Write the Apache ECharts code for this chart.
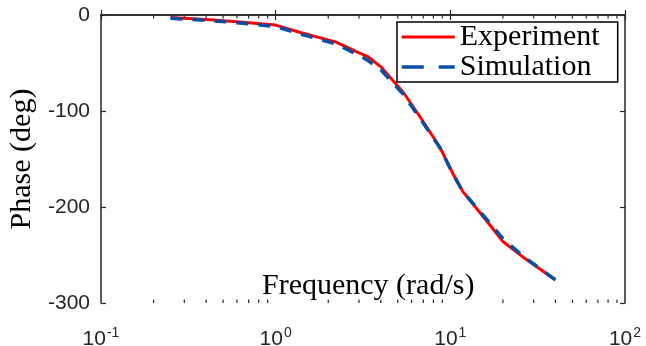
<!DOCTYPE html>
<html>
<head>
<meta charset="utf-8">
<script src="https://cdn.jsdelivr.net/npm/echarts@6/dist/echarts.min.js"></script>
<style>
html,body{margin:0;padding:0;background:#fff;}
#chart{width:646px;height:346px;}
</style>
</head>
<body>
<div id="chart"></div>
<script>
// Frequencies (rad/s)
const freqs = [0.25, 0.4, 0.6, 1.0, 1.4, 2.2, 3.0, 3.35, 4.0, 5.4, 6.7, 8.7, 10.3, 11.8, 16.9, 20, 26, 40];
// Phase (deg)
const experiment = [-2.5, -4.7, -7, -10.5, -18.5, -28, -39.5, -43, -54, -81, -106, -137.5, -164.5, -184, -219, -236, -252, -276];
const simulation = [-3.5, -5.5, -8, -12, -20, -30, -42, -47, -57, -83, -107.5, -138, -165, -184, -217, -233, -251, -276];
// Axis decorations
const yTicks = [-300, -200, -100, 0];
const minorTickFreqs = [0.2,0.3,0.4,0.5,0.6,0.7,0.8,0.9, 2,3,4,5,6,7,8,9, 20,30,40,50,60,70,80,90];
const seriesNames = ['Experiment', 'Simulation'];
const xName = 'Frequency (rad/s)';
const yName = 'Phase (deg)';

const axisColor = '#262626';
const chart = echarts.init(document.getElementById('chart'));

const pair = (xs, ys) => xs.map((x, i) => [x, ys[i]]);

chart.setOption({
  animation: false,
  backgroundColor: '#fff',
  title: {
    text: xName, left: 262, top: 271, padding: 0,
    textStyle: { fontFamily: 'Liberation Serif', fontSize: 30, fontWeight: 'normal', color: '#000' }
  },
  grid: { left: 101, right: 21, top: 15, bottom: 43, outerBoundsMode: 'none', containLabel: false },
  legend: {
    orient: 'vertical',
    left: 397, top: 22,
    backgroundColor: '#fff',
    borderColor: '#000', borderWidth: 1.5, borderRadius: 0,
    padding: [0, 18, 0, 3],
    itemGap: 0, itemWidth: 53, itemHeight: 26,
    itemStyle: { opacity: 0 },
    textStyle: { fontFamily: 'Liberation Serif', fontSize: 30, color: '#000', lineHeight: 26 },
    data: [
      { name: seriesNames[0], lineStyle: { width: 3 } },
      { name: seriesNames[1], lineStyle: { width: 3.5, type: [22, 15] } }
    ]
  },
  xAxis: [{
    type: 'log', logBase: 10, min: 0.1, max: 100, splitNumber: 3,
    axisLine: { lineStyle: { color: axisColor, width: 1.5 } },
    axisTick: { inside: true, length: 5, lineStyle: { color: axisColor, width: 1.2 } },
    splitLine: { show: false },
    axisLabel: {
      margin: 23, color: axisColor,
      formatter: v => '{b|10}{s|' + Math.round(Math.log10(v)) + '}',
      rich: {
        b: { fontFamily: 'Liberation Sans', fontSize: 21, color: axisColor, verticalAlign: 'bottom', lineHeight: 24 },
        s: { fontFamily: 'Liberation Sans', fontSize: 14, color: axisColor, verticalAlign: 'top', lineHeight: 24, padding: [0, 0, 12, 1] }
      }
    }
  }, {
    type: 'log', logBase: 10, min: 0.1, max: 100, splitNumber: 3, position: 'top',
    axisLine: { lineStyle: { color: axisColor, width: 1.5 } },
    axisTick: { inside: true, length: 5, lineStyle: { color: axisColor, width: 1.2 } },
    axisLabel: { show: false }, splitLine: { show: false }
  }],
  yAxis: [{
    type: 'value', min: -300, max: 0, interval: 100,
    name: yName, nameLocation: 'middle', nameGap: 52,
    nameTextStyle: { fontFamily: 'Liberation Serif', fontSize: 30, color: '#000' },
    axisLine: { show: true, lineStyle: { color: axisColor, width: 1.5 } },
    axisTick: { show: true, inside: true, length: 5, lineStyle: { color: axisColor, width: 1.2 } },
    splitLine: { show: false },
    axisLabel: { margin: 11, fontFamily: 'Liberation Sans', fontSize: 21, color: axisColor,
      formatter: v => yTicks.includes(v) ? String(v) : '' }
  }, {
    type: 'value', min: -300, max: 0, interval: 100, position: 'right',
    axisLine: { show: true, lineStyle: { color: axisColor, width: 1.5 } },
    axisTick: { show: true, inside: true, length: 5, lineStyle: { color: axisColor, width: 1.2 } },
    splitLine: { show: false }, axisLabel: { show: false }
  }],
  series: [
    {
      name: seriesNames[0], type: 'line', data: pair(freqs, experiment),
      symbol: 'none', showSymbol: false, lineStyle: { color: '#ff0000', width: 3 }, itemStyle: { color: '#ff0000' }
    },
    {
      name: seriesNames[1], type: 'line', data: pair(freqs, simulation),
      symbol: 'none', showSymbol: false, lineStyle: { color: '#0b4fa3', width: 3.5, type: [12, 10] }, itemStyle: { color: '#0b4fa3' }
    },
    {
      type: 'custom', silent: true, clip: false,
      data: minorTickFreqs.map(f => [f]),
      renderItem: (params, api) => {
        const f = api.value(0);
        const b = api.coord([f, -300]);
        const t = api.coord([f, 0]);
        const style = { stroke: axisColor, lineWidth: 1.2 };
        return { type: 'group', children: [
          { type: 'line', shape: { x1: b[0], y1: b[1], x2: b[0], y2: b[1] - 3.5 }, style },
          { type: 'line', shape: { x1: t[0], y1: t[1], x2: t[0], y2: t[1] + 3.5 }, style }
        ]};
      }
    }
  ]
});
</script>
</body>
</html>
